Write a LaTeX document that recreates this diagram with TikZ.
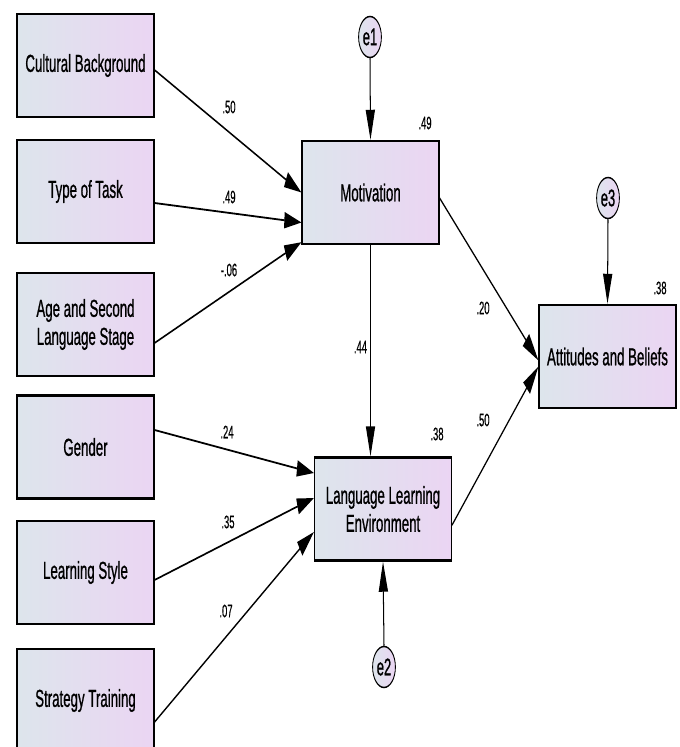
\documentclass[tikz,border=0pt]{standalone}
\usepackage{fontspec}
\setmainfont{Liberation Sans}[FakeStretch=0.95,FakeBold=1.2]
\newfontfamily\coeffont{Liberation Sans}[FakeStretch=0.92,FakeBold=0.8]
\usetikzlibrary{arrows.meta,calc,shapes.geometric}
\definecolor{varleft}{RGB}{221,229,236}
\definecolor{varright}{RGB}{235,213,243}
\begin{document}
\begin{tikzpicture}[x=1pt,y=-1pt]
\useasboundingbox (0,0) rectangle (680,747);
\begin{scope}[x=1.7544pt,transform canvas={xscale=0.57},
  obsvar/.style={draw,line width=2.4pt,left color=varleft,right color=varright,minimum width=240pt,minimum height=103pt,inner sep=0pt,align=center,font=\fontsize{24.5}{28}\selectfont},
  errvar/.style={ellipse,draw,line width=1.5pt,left color=varleft,right color=varright,minimum width=40pt,minimum height=41pt,inner sep=0pt,font=\fontsize{24}{28}\selectfont},
  coef/.style={inner sep=0pt,font=\coeffont\fontsize{18}{20}\selectfont},
  regarrow/.style={-{Triangle[length=30pt,width=16pt]},line width=1.8pt}]
\node[obsvar] (cult) at (85.5,65.5) {Cultural Background};
\node[obsvar] (task) at (85.5,191.5) {Type of Task};
\node[obsvar] (age) at (85.5,324.5) {Age and Second\\Language Stage};
\node[obsvar] (gender) at (85.5,447) {Gender};
\node[obsvar] (lstyle) at (85.5,572.5) {Learning Style};
\node[obsvar] (training) at (85.5,700.5) {Strategy Training};
\node[obsvar] (motiv) at (370.5,192.5) {Motivation};
\node[obsvar] (env) at (383,509) {Language Learning\\Environment};
\node[obsvar] (attit) at (607.5,356.5) {Attitudes and Beliefs};
\node[errvar] (e1) at (370,37) {e1};
\node[errvar] (e2) at (384,667) {e2};
\node[errvar] (e3) at (608,198) {e3};
\draw[regarrow] ($(cult.east)+(0,4.5)$) -- (motiv.west);
\draw[regarrow] ($(task.east)+(0,11.5)$) -- ($(motiv.west)+(0,30)$);
\draw[regarrow] ($(age.east)+(0,18.5)$) -- ($(motiv.south west)+(0,-3)$);
\draw[regarrow] ($(gender.east)+(0,-17)$) -- ($(env.west)+(0,-36)$);
\draw[regarrow] ($(lstyle.east)+(0,7.5)$) -- ($(env.west)+(0,-11)$);
\draw[regarrow] ($(training.east)+(0,21.5)$) -- ($(env.west)+(0,23)$);
\draw[regarrow] (motiv.south) -- (motiv.south |- env.north);
\draw[regarrow] ($(motiv.east)+(0,5.5)$) -- ($(attit.west)+(0,4)$);
\draw[regarrow] ($(env.east)+(0,16)$) -- ($(attit.west)+(0,10)$);
\draw[regarrow] (e1.south) -- (motiv.north);
\draw[regarrow] (e3.south) -- (attit.north);
\draw[regarrow] (e2.north) -- (env.south);
\node[coef] (bcult) at (229,107) {.50};
\node[coef] (btask) at (229,197) {.49};
\node[coef] (bage) at (229,270) {-.06};
\node[coef] (bgender) at (227,432) {.24};
\node[coef] (bstyle) at (228,522) {.35};
\node[coef] (btrain) at (226,611) {.07};
\node[coef] (bmotenv) at (360.5,347) {.44};
\node[coef] (bmotatt) at (483,308) {.20};
\node[coef] (benvatt) at (483,420) {.50};
\node[coef] (rmotiv) at (425,123) {.49};
\node[coef] (renv) at (437,434) {.38};
\node[coef] (rattit) at (660,288) {.38};
\end{scope}
\end{tikzpicture}
\end{document}
